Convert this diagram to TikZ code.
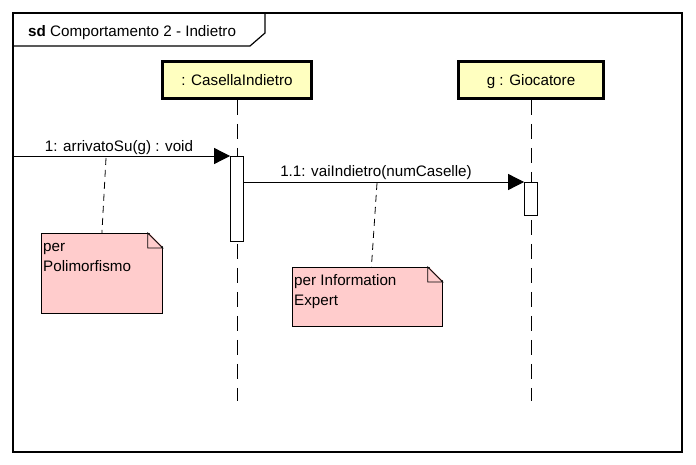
\documentclass[tikz,border=0pt]{standalone}
\usepackage{fontspec}
\setmainfont{Liberation Sans}
\usetikzlibrary{arrows.meta,positioning}

\definecolor{headyellow}{RGB}{255,255,192}
\definecolor{notepink}{RGB}{255,204,204}

\tikzset{
  lifehead/.style={draw, line width=2.6pt, fill=headyellow, minimum height=37pt,
    inner sep=0pt, text height=10.9pt, text depth=0pt},
  lifeline/.style={line width=0.9pt, dash pattern=on 15pt off 9pt},
  actbox/.style={draw, fill=white, line width=0.8pt, minimum width=13pt, inner sep=0pt, anchor=north},
  msg/.style={line width=0.8pt, -{Triangle[length=16pt,width=16pt]}},
  msglabel/.style={anchor=base, inner sep=0pt},
  notebox/.style={draw, fill=notepink, line width=0.8pt, inner sep=0pt, anchor=north west},
  notetext/.style={anchor=north west, align=left, inner xsep=2pt, inner ysep=4.5pt,
    font=\fontsize{15.2}{20}\selectfont},
  notelink/.style={line width=0.8pt, dash pattern=on 7pt off 5pt},
}

\begin{document}
\begin{tikzpicture}[x=1pt, y=-1pt, every node/.style={font=\fontsize{15.2}{18}\selectfont}]
    \useasboundingbox (0,0) rectangle (696,465);

    % Frame and its title tab
    \draw[line width=1.2pt] (13,13) rectangle (682,452);
    \draw[line width=1.2pt] (13,46) -- (250,46) -- (265,33) -- (265,13);
    \node[anchor=base west, inner sep=0pt] (title) at (28,37) {\textbf{sd} Comportamento 2 - Indietro};

    % Lifelines
    \node[lifehead, minimum width=149pt] (casella) at (237,80) {: CasellaIndietro};
    \node[lifehead, minimum width=145pt] (giocatore) at (531,80) {g : Giocatore};
    \coordinate (casellaend) at (237,401);
    \coordinate (giocatoreend) at (531,401);
    \draw[lifeline] (casella.south) -- (casellaend);
    \draw[lifeline] (giocatore.south) -- (giocatoreend);

    % Activations
    \node[actbox, minimum height=85pt] (act1) at (237,156) {};
    \node[actbox, minimum height=33pt] (act2) at (531,182) {};

    % Messages
    \coordinate (found) at (13,156);
    \draw[msg] (found) -- (act1.north west);
    \node[msglabel] (m1) at (119,151.5) {1: arrivatoSu(g) : void};
    \draw[msg] (act1.east |- act2.north) -- (act2.north west);
    \node[msglabel] (m2) at (376,177) {1.1: vaiIndietro(numCaselle)};

    % Notes
    \node[notebox, minimum width=121pt, minimum height=80pt] (npoli) at (41,233) {};
    \node[notetext] (tpoli) at (npoli.north west) {\strut per\\Polimorfismo};
    \node[notebox, minimum width=150pt, minimum height=59pt] (nexpert) at (292,267) {};
    \node[notetext] (texpert) at (nexpert.north west) {\strut per Information\\Expert};
    \foreach \n in {npoli, nexpert} {
        \fill[white] ([xshift=-15pt,yshift=1.5pt]\n.north east) -- ([xshift=1.5pt,yshift=1.5pt]\n.north east)
            -- ([xshift=1.5pt,yshift=-15pt]\n.north east) -- cycle;
        \draw[line width=0.8pt, fill=notepink] ([xshift=-15pt]\n.north east) -- ([yshift=-15pt]\n.north east)
            -- ([xshift=-15pt,yshift=-15pt]\n.north east) -- cycle;
    }

    % Links from messages to notes
    \coordinate (link1) at (106,158);
    \coordinate (link2) at (377,183);
    \draw[notelink] (link1) -- (npoli.north);
    \draw[notelink] (link2) -- ([xshift=4pt]nexpert.north);
\end{tikzpicture}
\end{document}
